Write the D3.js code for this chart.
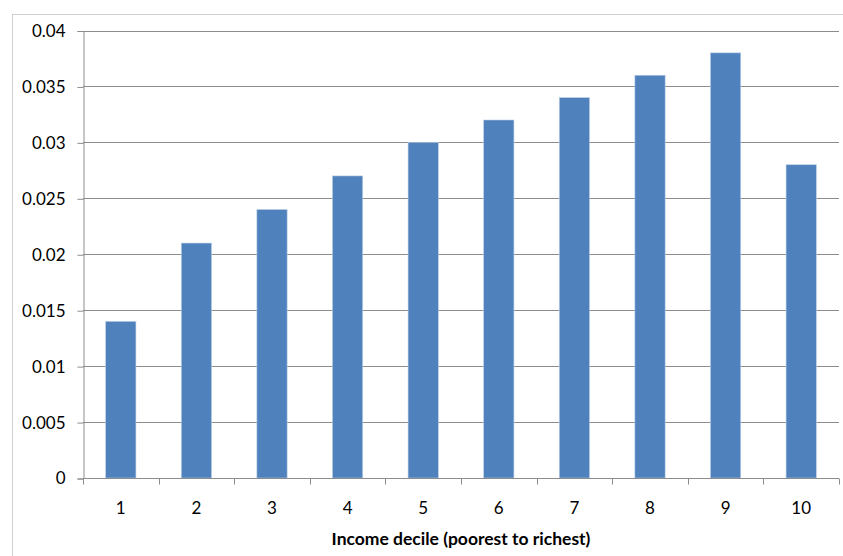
<!DOCTYPE html>
<html>
<head>
<meta charset="utf-8">
<script src="https://cdn.jsdelivr.net/npm/d3@7"></script>
<style>
  html, body { margin: 0; padding: 0; background: #fff; }
  svg { display: block; font-family: Lato, "Open Sans", "Liberation Sans", sans-serif; }
</style>
</head>
<body>
<svg id="chart" width="843" height="556"></svg>
<script>
// Income deciles and their values
const deciles = ["1", "2", "3", "4", "5", "6", "7", "8", "9", "10"];
const values = [0.014, 0.021, 0.024, 0.027, 0.030, 0.032, 0.034, 0.036, 0.038, 0.028];
const yTicks = [0, 0.005, 0.01, 0.015, 0.02, 0.025, 0.03, 0.035, 0.04];
const yTickLabels = ["0", "0.005", "0.01", "0.015", "0.02", "0.025", "0.03", "0.035", "0.04"];
const xTitle = "Income decile (poorest to richest)";

const svg = d3.select("#chart");
const W = 843, H = 556;
const margin = { left: 83, right: 4, top: 30.5, bottom: 78 };

// Chart frame
svg.append("rect")
  .attr("x", 12.5).attr("y", 14.5)
  .attr("width", 900).attr("height", 700)
  .attr("fill", "none").attr("stroke", "#d0d0d0").attr("stroke-width", 1);

const xOuter = d3.scaleBand()
  .domain(deciles)
  .range([margin.left, W - margin.right]);

const y = d3.scaleLinear()
  .domain([0, 0.04])
  .range([H - margin.bottom, margin.top]);

// Horizontal gridlines
svg.append("g")
  .selectAll("line")
  .data(yTicks.slice(1))
  .join("line")
  .attr("x1", margin.left).attr("x2", W - margin.right)
  .attr("y1", d => Math.round(y(d)) + 0.5).attr("y2", d => Math.round(y(d)) + 0.5)
  .attr("stroke", "#8c8c8c").attr("stroke-width", 1);

// Bars (gap width 150% of bar width)
svg.append("g")
  .selectAll("rect")
  .data(values)
  .join("rect")
  .attr("x", (d, i) => xOuter(deciles[i]) + xOuter.bandwidth() * 0.3)
  .attr("width", xOuter.bandwidth() * 0.4)
  .attr("y", d => y(d))
  .attr("height", d => y(0) - y(d))
  .attr("fill", "#4f81bd")
  .attr("stroke", "#b9cde5").attr("stroke-width", 0.6);

// Y axis
const yAxis = d3.axisLeft(y)
  .tickValues(yTicks)
  .tickFormat((d, i) => yTickLabels[i])
  .tickSize(6).tickPadding(12);
const gy = svg.append("g")
  .attr("transform", `translate(${margin.left + 0.5},0.5)`)
  .call(yAxis);
gy.select(".domain").attr("stroke", "#8c8c8c");
gy.selectAll(".tick line").attr("stroke", "#8c8c8c");
gy.selectAll(".tick text").attr("font-size", 17).attr("fill", "#000")
  .attr("font-family", "Lato, 'Open Sans', sans-serif");

// X axis with ticks at category boundaries
const gx = svg.append("g")
  .attr("transform", `translate(0,${Math.round(y(0)) + 0.5})`);
gx.append("line")
  .attr("x1", margin.left).attr("x2", W - margin.right)
  .attr("stroke", "#8c8c8c");
const bounds = deciles.map(d => xOuter(d)).concat([W - margin.right]);
gx.selectAll("line.tk")
  .data(bounds)
  .join("line").attr("class", "tk")
  .attr("x1", d => Math.round(d) + 0.5).attr("x2", d => Math.round(d) + 0.5)
  .attr("y1", 0).attr("y2", 6)
  .attr("stroke", "#8c8c8c");
gx.selectAll("text")
  .data(deciles)
  .join("text")
  .attr("x", d => xOuter(d) + xOuter.bandwidth() / 2)
  .attr("y", 35)
  .attr("text-anchor", "middle")
  .attr("font-size", 17).attr("fill", "#000")
  .text(d => d);

// X axis title
svg.append("text")
  .attr("x", (margin.left + W - margin.right) / 2)
  .attr("y", 545)
  .attr("text-anchor", "middle")
  .attr("font-size", 17.5).attr("font-weight", "bold").attr("fill", "#000")
  .text(xTitle);
</script>
</body>
</html>
